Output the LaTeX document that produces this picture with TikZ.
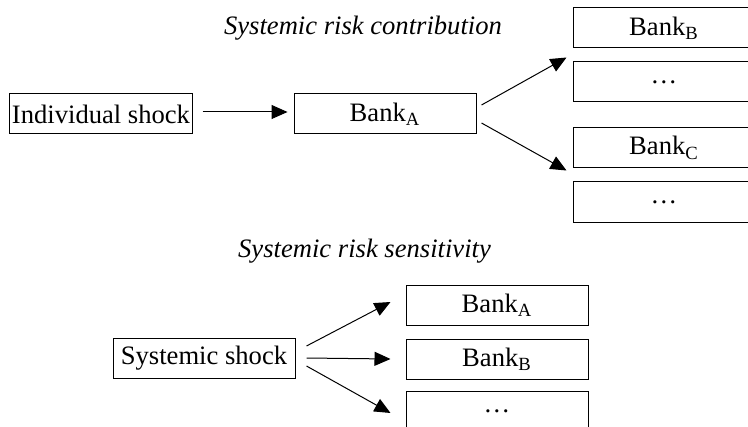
\documentclass[tikz,border=0pt]{standalone}
\usepackage{fontspec}
\setmainfont{Liberation Serif}
\usepackage{tikz}
\usetikzlibrary{arrows.meta,positioning}
\newcommand{\tam}{\fontsize{13.3}{16}\selectfont}
\tikzset{
    bloco/.style={
        rectangle,
        draw,
        line width=0.5pt,
        align=center,
        inner sep=1pt,
        minimum width=91pt,
        minimum height=20pt
    },
    titulo/.style={font=\tam\itshape},
    fluxo/.style={-{Triangle[length=8pt,width=7pt]}, line width=0.5pt}
}

\begin{document}
\begin{tikzpicture}[
        every node/.style={font=\tam}
    ]
        \path[use as bounding box, clip] (0,0) rectangle (374pt,-213.5pt);

        % contribution
        \node[titulo, anchor=base] (tituloContrib) at (181.5pt,-17.5pt) {Systemic risk contribution};
        \node[bloco] (choque) at (50.5pt,-57pt) {Individual shock};
        \node[bloco, right=50.5pt of choque] (bancoA) {Bank\textsubscript{A}};
        \node[bloco] (bancoB) at (332pt,-14pt) {Bank\textsubscript{B}};
        \node[bloco, below=6.5pt of bancoB] (resto1) {…};
        \node[bloco, below=12.5pt of resto1] (bancoC) {Bank\textsubscript{C}};
        \node[bloco, below=6.5pt of bancoC] (resto2) {…};

        \draw[fluxo] ([xshift=5pt,yshift=1pt]choque.east) -- ([xshift=-3pt,yshift=1pt]bancoA.west);
        \draw[fluxo] ([xshift=2.5pt,yshift=4.5pt]bancoA.east) -- ([xshift=-3pt,yshift=-4.5pt]bancoB.south west);
        \draw[fluxo] ([xshift=2.5pt,yshift=-4.5pt]bancoA.east) -- ([xshift=-3pt,yshift=-1pt]bancoC.south west);

        % sensitivity
        \node[titulo, anchor=base] (tituloSens) at (182.25pt,-128.7pt) {Systemic risk sensitivity};
        \node[bloco] (sistemico) at (102pt,-179pt) {Systemic shock};
        \node[bloco] (bancoA2) at (248.5pt,-152.5pt) {Bank\textsubscript{A}};
        \node[bloco, below=6.5pt of bancoA2] (bancoB2) {Bank\textsubscript{B}};
        \node[bloco, below=5.5pt of bancoB2] (resto3) {…};

        \draw[fluxo] ([xshift=5.5pt,yshift=6pt]sistemico.east) -- ([xshift=-7.5pt,yshift=1.5pt]bancoA2.west);
        \draw[fluxo] ([xshift=5.5pt]sistemico.east) -- ([xshift=-7.5pt]bancoB2.west);
        \draw[fluxo] ([xshift=5.5pt,yshift=-4pt]sistemico.east) -- ([xshift=-7.5pt,yshift=-1pt]resto3.west);
    \end{tikzpicture}
\end{document}
